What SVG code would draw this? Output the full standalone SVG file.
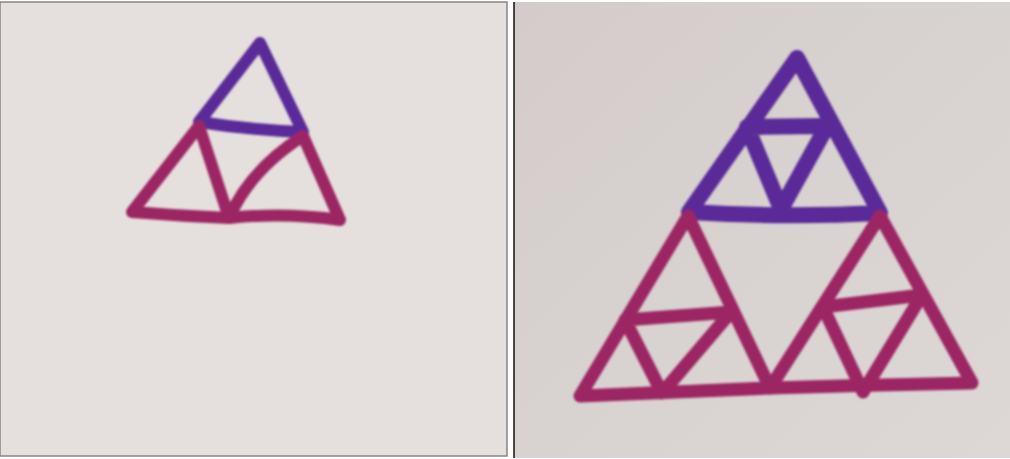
<svg xmlns="http://www.w3.org/2000/svg" width="1010" height="459" viewBox="0 0 1010 459">
<defs>
<linearGradient id="bgR" x1="0" y1="0" x2="1" y2="1">
<stop offset="0" stop-color="#d3cccb"/>
<stop offset="1" stop-color="#ddd8d6"/>
</linearGradient>
<filter id="soft"><feGaussianBlur stdDeviation="0.9"/></filter>
</defs>
<style>
.p{fill:none;stroke:#5a2a98;stroke-linejoin:round;stroke-linecap:round}
.r{fill:none;stroke:#9c2763;stroke-linejoin:round;stroke-linecap:round}
.l{stroke-width:12}
.b{stroke-width:13}
.bp{stroke-width:16}
</style>
<rect width="1010" height="459" fill="#ffffff"/>
<rect id="leftPanel" x="0" y="2" width="507" height="454" fill="#e5e0dd" stroke="#8a8482" stroke-width="1.5"/>
<rect id="rightPanel" x="514" y="2" width="496" height="456" fill="url(#bgR)"/>
<line x1="514" y1="2" x2="514" y2="458" stroke="#111" stroke-width="1.5"/>
<g filter="url(#soft)">
<g id="left-top" class="p l">
<path d="M260,43 L199,122 Q250,130 303,132 Z"/>
</g>
<g id="left-bl" class="r l">
<path d="M199,126 L132,212 Q180,216 229,218 Z"/>
</g>
<g id="left-br" class="r l">
<path d="M303,136 Q250,170 229,218 Q285,212 340,220 Z"/>
</g>
<g id="right-top" class="p bp">
<path d="M797,58 L689,212 Q785,218 880,213 Z"/>
<path d="M747,127 L827,126 L781,209 Z"/>
</g>
<g id="right-bl" class="r b">
<path d="M688,216 L580,396 Q675,392 770,388 Z"/>
<path d="M625,320 L731,312 L662,393 Z"/>
</g>
<g id="right-br" class="r b">
<path d="M880,216 L770,388 Q870,385 972,383 Z"/>
<path d="M823,307 L922,295 L863,392 Z"/>
</g>
</g>
</svg>
